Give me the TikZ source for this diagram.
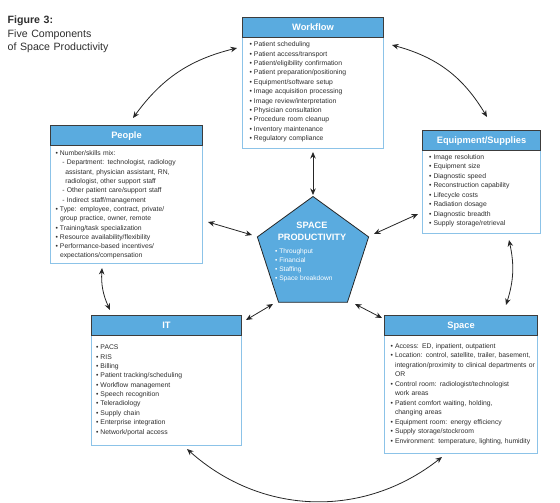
\documentclass[tikz,border=0pt]{standalone}
\usepackage{fontspec}
\setmainfont{Liberation Sans}
\usetikzlibrary{arrows.meta,shapes.geometric}
\definecolor{hdrblue}{HTML}{5AABDF}
\definecolor{edgeblue}{HTML}{8CC3E8}
\definecolor{hdredge}{HTML}{3C3C3C}
\definecolor{txt}{HTML}{2E2E2E}
\definecolor{arr}{HTML}{262626}
\newcommand\bu{\makebox[4.3pt][l]{\textbullet}}
\begin{document}
\begin{tikzpicture}[x=1pt,y=-1pt,
 boxbody/.style={draw=edgeblue,line width=1pt,fill=white,anchor=north west,inner sep=0},
 hdr/.style={draw=hdredge,line width=1pt,fill=hdrblue,anchor=north west,inner sep=0,minimum height=20pt,
   text=white,font=\bfseries\fontsize{9.3}{11}\selectfont,text height=6.8pt,text depth=0pt},
 bodytext/.style={anchor=base west,inner sep=0,text width=160pt,align=left,text=txt,font=\fontsize{6.8}{9.4}\selectfont},
 link/.style={draw=arr,line width=0.8pt,{Stealth[length=6.5pt,width=5.5pt]}-{Stealth[length=6.5pt,width=5.5pt]}}
]
\useasboundingbox (0,0) rectangle (560,503);

% title
\node[anchor=base west,inner sep=0,text=txt,text width=150pt,font=\fontsize{10.6}{13.4}\selectfont,align=left] (title) at (7.5,24)
 {\textbf{Figure 3:}\\Five Components\\of Space Productivity};

% Workflow
\node[boxbody,minimum width=141pt,minimum height=131pt] (wf) at (242,17) {};
\node[hdr,minimum width=141pt] (wfh) at (242,17) {Workflow};
\node[bodytext] (wft) at (249.5,46.7) {\bu Patient scheduling\\
\bu Patient access/transport\\
\bu Patient/eligibility confirmation\\
\bu Patient preparation/positioning\\
\bu Equipment/software setup\\
\bu Image acquisition processing\\
\bu Image review/interpretation\\
\bu Physician consultation\\
\bu Procedure room cleanup\\
\bu Inventory maintenance\\
\bu Regulatory compliance};

% People
\node[boxbody,minimum width=152pt,minimum height=138pt] (pp) at (50,125) {};
\node[hdr,minimum width=152pt] (pph) at (50,125) {People};
\node[bodytext,font=\fontsize{6.8}{9.3}\selectfont] (ppt) at (55.5,155.7) {\bu Number/skills mix:\\
\hspace*{6.6pt}- Department: technologist, radiology\\
\hspace*{9.6pt}assistant, physician assistant, RN,\\
\hspace*{9.6pt}radiologist, other support staff\\
\hspace*{6.6pt}- Other patient care/support staff\\
\hspace*{6.6pt}- Indirect staff/management\\
\bu Type: employee, contract, private/\\
\hspace*{4.3pt}group practice, owner, remote\\
\bu Training/task specialization\\
\bu Resource availability/flexibility\\
\bu Performance-based incentives/\\
\hspace*{4.3pt}expectations/compensation};

% Equipment/Supplies
\node[boxbody,minimum width=118pt,minimum height=103pt] (eq) at (422,130) {};
\node[hdr,minimum width=118pt] (eqh) at (422,130) {Equipment/Supplies};
\node[bodytext,font=\fontsize{6.8}{9.5}\selectfont] (eqt) at (429,159.1) {\bu Image resolution\\
\bu Equipment size\\
\bu Diagnostic speed\\
\bu Reconstruction capability\\
\bu Lifecycle costs\\
\bu Radiation dosage\\
\bu Diagnostic breadth\\
\bu Supply storage/retrieval};

% IT
\node[boxbody,minimum width=150pt,minimum height=130pt] (it) at (91,315) {};
\node[hdr,minimum width=150pt] (ith) at (91,315) {IT};
\node[bodytext,font=\fontsize{6.8}{9.37}\selectfont] (itt) at (96,349.7) {\bu PACS\\
\bu RIS\\
\bu Billing\\
\bu Patient tracking/scheduling\\
\bu Workflow management\\
\bu Speech recognition\\
\bu Teleradiology\\
\bu Supply chain\\
\bu Enterprise integration\\
\bu Network/portal access};

% Space
\node[boxbody,minimum width=153pt,minimum height=138pt] (spc) at (384,315) {};
\node[hdr,minimum width=153pt] (spch) at (384,315) {Space};
\node[bodytext,font=\fontsize{6.8}{9.5}\selectfont] (spct) at (390.5,348.1) {\bu Access: ED, inpatient, outpatient\\
\bu Location: control, satellite, trailer, basement,\\
\hspace*{4.3pt}integration/proximity to clinical departments or\\
\hspace*{4.3pt}OR\\
\bu Control room: radiologist/technologist\\
\hspace*{4.3pt}work areas\\
\bu Patient comfort waiting, holding,\\
\hspace*{4.3pt}changing areas\\
\bu Equipment room: energy efficiency\\
\bu Supply storage/stockroom\\
\bu Environment: temperature, lighting, humidity};

% Pentagon
\node[draw=arr,fill=hdrblue,line width=0.8pt,regular polygon,regular polygon sides=5,minimum size=117pt,inner sep=0] (sp) at (313,255) {};
\node[inner sep=0,align=center,text=white,font=\bfseries\fontsize{9.2}{12}\selectfont] (sptitle) at (312,231) {SPACE\\PRODUCTIVITY};
\node[bodytext,text=white,font=\fontsize{6.6}{9.1}\selectfont] (spitems) at (274.8,253) {\bu Throughput\\
\bu Financial\\
\bu Staffing\\
\bu Space breakdown};

% connector end points
\coordinate (a1s) at (133,118); \coordinate (a1e) at (237,48);
\coordinate (a2s) at (392,45);  \coordinate (a2e) at (487,117);
\coordinate (a3s) at (313,152); \coordinate (a3e) at (313,195);
\coordinate (a4s) at (208,222); \coordinate (a4e) at (252,235);
\coordinate (a5s) at (418,214); \coordinate (a5e) at (374,234);
\coordinate (a6s) at (246,320); \coordinate (a6e) at (273,304);
\coordinate (a7s) at (382,318); \coordinate (a7e) at (355,304);
\coordinate (a8s) at (102,268); \coordinate (a8e) at (110,310);
\coordinate (a9s) at (509,240); \coordinate (a9e) at (506,305);
\coordinate (a10s) at (187,449); \coordinate (a10e) at (442,457);

\draw[link] (a1s) to[bend left=20] (a1e);
\draw[link] (a2s) to[bend left=22] (a2e);
\draw[link] (a3s) -- (a3e);
\draw[link] (a4s) -- (a4e);
\draw[link] (a5s) -- (a5e);
\draw[link] (a6s) -- (a6e);
\draw[link] (a7s) -- (a7e);
\draw[link] (a8s) to[bend right=14] (a8e);
\draw[link] (a9s) to[bend left=15] (a9e);
\draw[link] (a10s) to[bend right=40] (a10e);
\end{tikzpicture}
\end{document}
